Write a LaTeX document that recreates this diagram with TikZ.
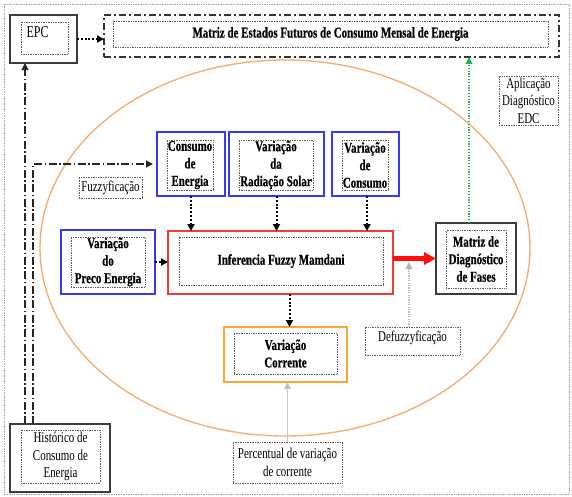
\documentclass[tikz,border=0pt]{standalone}
\usepackage{fontspec}
\setmainfont{Liberation Serif}[FakeStretch=0.73, BoldFeatures={FakeBold=0.6}]
\usetikzlibrary{arrows.meta,calc}

\definecolor{boxblue}{HTML}{3A3AF5}
\definecolor{boxred}{HTML}{F53A3A}
\definecolor{arrowred}{HTML}{FF1010}
\definecolor{ellorange}{HTML}{F6AE78}
\definecolor{boxorange}{HTML}{FBA630}
\definecolor{edcgreen}{HTML}{22B24C}
\definecolor{framegray}{HTML}{A0A0A0}
\definecolor{boxgray}{HTML}{3C3C3C}

\tikzset{
  txt/.style={font=\rmfamily\fontsize{15pt}{17.5pt}\selectfont},
  btxt/.style={font=\rmfamily\fontsize{15pt}{17.5pt}\selectfont\bfseries},
  sz/.style 2 args={minimum width=#1pt, minimum height=#2pt},
  every node/.style={inner sep=0pt, outer sep=0pt, align=center},
  blueout/.style={draw=boxblue, line width=1.3pt, fill=white},
  redout/.style={draw=boxred, line width=1.3pt, fill=white},
  orangeout/.style={draw=boxorange, line width=1.3pt, fill=white},
  grayout/.style={draw=boxgray, line width=1.5pt, fill=white},
  inbox/.style={draw=black!65, densely dotted, line width=0.7pt},
  frameline/.style={draw=framegray, densely dotted, line width=0.7pt},
  dashdot/.style={draw=black!85, line width=1.1pt, dash pattern=on 8pt off 2.5pt on 1.5pt off 2.5pt},
  dashbox/.style={draw=black!80, line width=1.4pt, dash pattern=on 7pt off 3pt on 2pt off 3pt},
  tip/.style={-{Triangle[length=7pt,width=7pt]}},
  dotarrow/.style={draw=black, line width=2pt, dash pattern=on 2pt off 1.8pt, tip},
  greenarrow/.style={draw=edcgreen, line width=1.3pt, dash pattern=on 1.3pt off 1.5pt, -{Triangle[length=7pt,width=7pt,fill=edcgreen]}},
  grayarrow/.style={draw=gray!45, line width=1.2pt, -{Triangle[length=7pt,width=7pt,fill=gray!60]}},
  graydotarrow/.style={draw=gray!55, line width=1.2pt, dash pattern=on 1.2pt off 1.2pt, -{Triangle[length=7pt,width=7pt,fill=gray!65]}},
  redarrow/.style={draw=arrowred, line width=4.5pt, -{Triangle[length=12pt,width=12pt,fill=arrowred]}},
}

\begin{document}
\begin{tikzpicture}[x=1pt, y=-1pt]
\useasboundingbox (0,0) rectangle (572,496);

% page frame and the fuzzy system boundary
\draw[frameline] (4,4) rectangle (569,494);
\draw[ellorange, line width=1.4pt] (285,248) ellipse [x radius=245pt, y radius=188pt];

% EPC
\node[grayout, sz={67}{48}] (epc) at (43.5,39) {};
\node[inbox, sz={47}{32}] (epcB) at (44.5,38) {};
\node[anchor=north west, font=\rmfamily\fontsize{16.5pt}{18pt}\selectfont] (epcT) at (26.5,26.5) {EPC};

% monthly state matrix
\node[dashbox, sz={455}{42}] (mat) at (331.5,36) {};
\node[inbox, btxt, sz={435}{26}] (matT) at (330.5,34) {Matriz de Estados Futuros de Consumo Mensal de Energia};

% EDC label
\node[inbox, txt, sz={59}{49}] (apl) at (528.5,100.5) {Aplicação\\Diagnóstico\\EDC};

% fuzzyfication label
\node[inbox, txt, sz={63}{21}] (fuz) at (110.5,187.5) {Fuzzyficação};

% input variables
\node[blueout, sz={68}{64}] (cons) at (191,164) {};
\node[inbox, btxt, sz={46}{50}] (consT) at (190,165) {Consumo\\de\\Energia};

\node[blueout, sz={95}{64}] (rad) at (276.5,164) {};
\node[inbox, btxt, sz={74}{50}] (radT) at (276,165) {Variação\\da\\Radiação Solar};

\node[blueout, sz={67}{64}] (vcons) at (365.5,164) {};
\node[inbox, btxt, sz={46}{50}] (vconsT) at (365,165) {Variação\\de\\Consumo};

\node[blueout, sz={94}{64}] (preco) at (108,262) {};
\node[inbox, btxt, sz={74}{50}] (precoT) at (108,262) {Variação\\do\\Preco Energia};

% inference engine
\node[redout, sz={225}{63}] (inf) at (280.5,262.5) {};
\node[inbox, btxt, sz={204}{48}] (infT) at (281,261) {Inferencia Fuzzy Mamdani};

% phase diagnosis matrix
\node[grayout, sz={80}{71}] (diag) at (476,258.5) {};
\node[inbox, btxt, sz={60}{58}] (diagT) at (476,259) {Matriz de\\Diagnóstico\\de Fases};

% defuzzyfication label
\node[inbox, sz={95}{28}] (defz) at (412.5,341) {};
\node[txt, anchor=north] (defzT) at (412.5,330.5) {Defuzzyficação};

% current variation
\node[orangeout, sz={123}{55}] (corr) at (285.5,354.5) {};
\node[inbox, btxt, sz={103}{41}] (corrT) at (285.5,353.5) {Variação\\Corrente};

\node[inbox, txt, sz={109}{41}] (perc) at (287.5,462.5) {Percentual de variação\\de corrente};

% consumption history
\node[grayout, sz={100}{68}] (hist) at (60,458) {};
\node[inbox, txt, sz={79}{53}] (histT) at (60.5,456.5) {Histórico de\\Consumo de\\Energia};

% connectors
\draw[dotarrow] (epc.east) -- (mat.west |- epc.east);
\draw[dotarrow] (cons.south) -- (cons.south |- inf.north);
\draw[dotarrow] (rad.south) -- (rad.south |- inf.north);
\draw[dotarrow] ([xshift=1.5pt]vcons.south) -- ([xshift=1.5pt]vcons.south |- inf.north);
\draw[dotarrow] (preco.east) -- (inf.west |- preco.east);
\draw[dotarrow] ([xshift=4pt]corr.north |- inf.south) -- ([xshift=4pt]corr.north);
\draw[redarrow] (inf.east |- diag.west) -- (diag.west);
\coordinate (tap) at ($(inf.east |- diag.west)!0.37!(diag.west)$);
\draw[graydotarrow, shorten >=3.5pt] (defz.north -| tap) -- (tap);
\draw[grayarrow] (perc.north) -- (perc.north |- corr.south);
\draw[greenarrow] ([xshift=-7pt]diag.north) -- ([xshift=-7pt]diag.north |- mat.south);
\draw[dashdot, tip] ([xshift=15pt]hist.north west) -- ([xshift=15pt]epc.south west);
\draw[dashdot, tip, shorten >=4pt] ([xshift=23pt]hist.north west) |- (cons.west);
\end{tikzpicture}
\end{document}
